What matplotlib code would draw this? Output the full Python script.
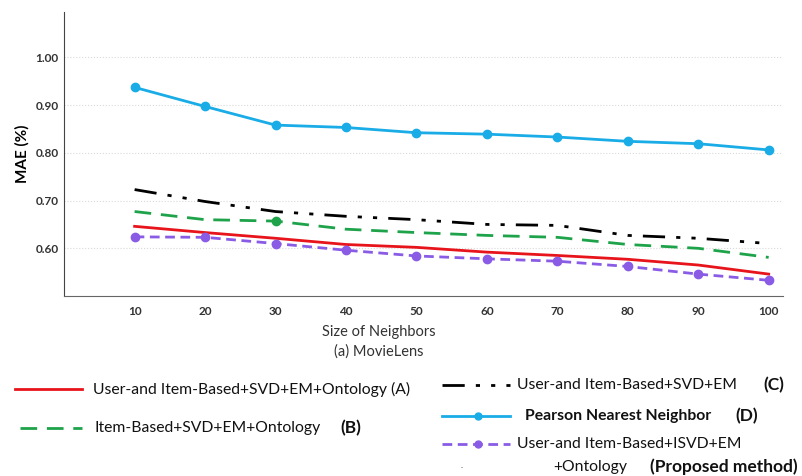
import matplotlib.pyplot as plt
from matplotlib.lines import Line2D

plt.rcParams["font.family"] = ["Lato", "DejaVu Sans"]

# neighbourhood sizes
neighbors = [10, 20, 30, 40, 50, 60, 70, 80, 90, 100]

# MAE values
mae_a = [0.646, 0.633, 0.621, 0.608, 0.602, 0.592, 0.585, 0.577, 0.565, 0.546]
mae_b = [0.677, 0.660, 0.657, 0.640, 0.633, 0.627, 0.623, 0.608, 0.600, 0.581]
mae_c = [0.723, 0.698, 0.677, 0.667, 0.660, 0.650, 0.648, 0.627, 0.621, 0.610]
mae_d = [0.937, 0.897, 0.858, 0.853, 0.842, 0.839, 0.833, 0.824, 0.819, 0.806]
mae_p = [0.624, 0.623, 0.610, 0.596, 0.584, 0.578, 0.573, 0.562, 0.546, 0.533]

y_ticks = [0.60, 0.70, 0.80, 0.90, 1.00]

red = "#e8141b"
green = "#1ea34a"
blue = "#1aace6"
purple = "#8a5ce6"

fig = plt.figure(figsize=(8.02, 4.76), dpi=100)
ax = fig.add_axes([0.080, 0.378, 0.896, 0.597])

ax.plot(neighbors, mae_d, color=blue, lw=2, marker="o", ms=6)
ax.plot(neighbors, mae_c, color="black", lw=2, dashes=[8, 4, 1.5, 4, 1.5, 4])
ax.plot(neighbors, mae_b, color=green, lw=2, dashes=[6, 3.5], marker="o", ms=6, markevery=[2])
ax.plot(neighbors, mae_a, color=red, lw=2)
ax.plot(neighbors, mae_p, color=purple, lw=2, dashes=[3.5, 2], marker="o", ms=6)

ax.set_xlim(0, 102)
ax.set_ylim(0.50, 1.095)
ax.set_xticks(neighbors)
ax.set_yticks(y_ticks)
ax.set_yticklabels([f"{v:.2f}" for v in y_ticks])
ax.tick_params(length=0, labelsize=8.5, colors="#333333")
ax.tick_params(axis="x", pad=7)
ax.tick_params(axis="y", pad=4)
for lab in ax.get_xticklabels() + ax.get_yticklabels():
    lab.set_fontweight("bold")
ax.grid(axis="y", color="#d9d9d9", ls=":", lw=0.8)
ax.spines["top"].set_visible(False)
ax.spines["right"].set_visible(False)
ax.spines["left"].set_color("#444444")
ax.spines["bottom"].set_color("#666666")

ax.set_ylabel("MAE (%)", fontsize=11, fontweight="bold", labelpad=4)
fig.text(379 / 802, 1 - 332 / 476, "Size of Neighbors", ha="center", va="center", fontsize=10.5, color="#333333")
fig.text(379 / 802, 1 - 352 / 476, "(a) MovieLens", ha="center", va="center", fontsize=10.5, color="#333333")

# legend drawn by hand
fnt = dict(fontsize=11.3, va="center", color="#111111")
big = {**fnt, "fontsize": 12.5, "fontweight": "bold"}


def handle(x0, x1, y, **kw):
    fig.add_artist(Line2D([x0 / 802, x1 / 802], [y, y], transform=fig.transFigure, **kw))


def dot(x, y, color):
    fig.add_artist(Line2D([x / 802], [y], transform=fig.transFigure, color=color, marker="o", ms=5))


y1 = 1 - 389 / 476
handle(15, 82, y1, color=red, lw=2)
fig.text(93 / 802, y1, "User-and Item-Based+SVD+EM+Ontology (A)", **fnt)

y2 = 1 - 428 / 476
handle(20, 82, y2, color=green, lw=2, dashes=[6, 3.5])
fig.text(95 / 802, y2, "Item-Based+SVD+EM+Ontology", **fnt)
fig.text(340 / 802, y2, "(B)", **big)

y3 = 1 - 385 / 476
handle(442, 510, y3, color="black", lw=2, dashes=[8, 4, 1.5, 4, 1.5, 4])
fig.text(517 / 802, y3, "User-and Item-Based+SVD+EM", **fnt)
fig.text(763 / 802, y3, "(C)", **big)

y4 = 1 - 416 / 476
handle(442, 510, y4, color=blue, lw=2)
dot(478, y4, blue)
fig.text(525 / 802, y4, "Pearson Nearest Neighbor", **{**fnt, "fontweight": "bold"})
fig.text(735 / 802, y4, "(D)", **big)

y5 = 1 - 444 / 476
handle(442, 510, y5, color=purple, lw=2, dashes=[3.5, 2])
dot(478, y5, purple)
fig.text(517 / 802, y5, "User-and Item-Based+ISVD+EM", **fnt)
y6 = 1 - 467 / 476
fig.text(553 / 802, y6, "+Ontology", **fnt)
fig.text(650 / 802, y6, "(Proposed method)", **big)
fig.text(462 / 802, 1 - 465 / 476, ".", ha="center", va="center", fontsize=6, color="#444444")

fig.savefig("out.png", dpi=100)
